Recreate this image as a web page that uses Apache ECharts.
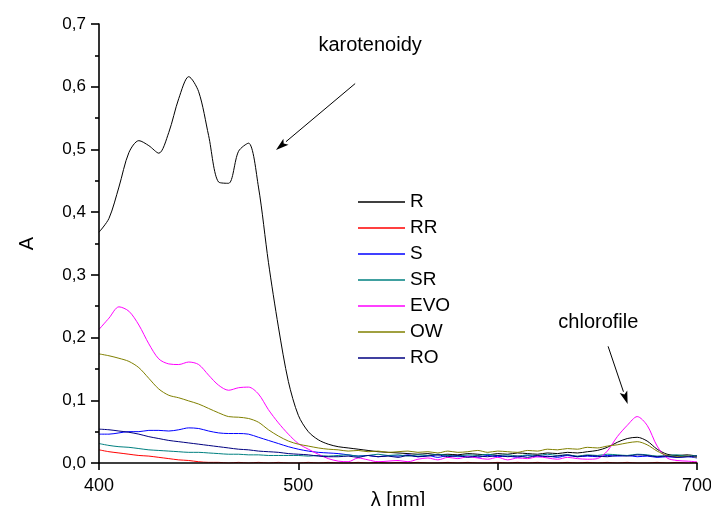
<!DOCTYPE html>
<html>
<head>
<meta charset="utf-8">
<title>Absorbance spectra</title>
<script src="https://cdn.jsdelivr.net/npm/echarts@6/dist/echarts.min.js"></script>
<style>
  html, body { margin: 0; padding: 0; background: #ffffff; }
  #chart { width: 711px; height: 506px; }
</style>
</head>
<body>
<div id="chart"></div>
<script>
// Wavelength grid (nm)
const wavelengths = [
  400,405,410,415,420,425,430,435,440,445,450,
  455,460,465,470,475,480,485,490,495,500,
  505,510,515,520,525,530,535,540,545,550,
  555,560,565,570,575,580,585,590,595,600,
  605,610,615,620,625,630,635,640,645,650,
  655,660,665,670,675,680,685,690,695,700
];

// Absorbance of each sample
const seriesNames = ['R', 'RR', 'S', 'SR', 'EVO', 'OW', 'RO'];

const absR = [
  0.368,0.390,0.440,0.495,0.514,0.506,0.494,0.527,0.581,0.616,0.592,
  0.522,0.448,0.446,0.497,0.510,0.440,0.320,0.217,0.130,0.076,
  0.050,0.037,0.030,0.026,0.024,0.022,0.020,0.018,0.017,0.016,
  0.015,0.014,0.015,0.013,0.014,0.013,0.015,0.014,0.013,0.015,
  0.014,0.016,0.015,0.014,0.016,0.015,0.017,0.016,0.018,0.020,
  0.025,0.033,0.039,0.041,0.035,0.022,0.014,0.012,0.013,0.011
];
const absRR = [
  0.021,0.018,0.016,0.014,0.012,0.011,0.009,0.007,0.005,0.004,0.002,
  0.001,0.001,0.000,0.001,0.000,0.001,0.000,0.001,0.000,0.000,
  0.001,0.000,0.001,0.000,0.000,0.001,0.000,0.001,0.000,0.001,
  0.000,0.001,0.000,0.000,0.001,0.000,0.001,0.000,0.000,0.001,
  0.000,0.001,0.000,0.001,0.000,0.000,0.001,0.000,0.001,0.000,
  0.001,0.000,0.001,0.000,0.000,0.001,0.000,0.001,0.000,0.001
];
const absS = [
  0.046,0.046,0.048,0.050,0.050,0.052,0.052,0.051,0.053,0.056,0.055,
  0.051,0.048,0.047,0.047,0.046,0.041,0.036,0.031,0.026,0.022,
  0.019,0.017,0.016,0.015,0.013,0.011,0.012,0.010,0.012,0.011,
  0.013,0.010,0.012,0.009,0.012,0.010,0.011,0.009,0.012,0.010,
  0.011,0.009,0.012,0.010,0.011,0.009,0.012,0.010,0.011,0.010,
  0.012,0.011,0.012,0.010,0.011,0.009,0.010,0.009,0.010,0.008
];
const absSR = [
  0.031,0.028,0.026,0.025,0.023,0.021,0.020,0.019,0.018,0.017,0.017,
  0.016,0.015,0.014,0.014,0.013,0.013,0.012,0.012,0.012,0.012,
  0.011,0.012,0.011,0.012,0.013,0.011,0.012,0.014,0.012,0.013,
  0.011,0.013,0.012,0.014,0.012,0.011,0.013,0.012,0.014,0.012,
  0.013,0.011,0.013,0.012,0.014,0.012,0.013,0.011,0.013,0.012,
  0.014,0.013,0.012,0.014,0.013,0.011,0.012,0.013,0.011,0.012
];
const absEVO = [
  0.213,0.231,0.249,0.242,0.220,0.190,0.166,0.158,0.157,0.161,0.157,
  0.140,0.124,0.116,0.120,0.121,0.110,0.085,0.064,0.046,0.031,
  0.022,0.014,0.007,0.003,0.002,0.008,0.005,0.002,0.003,0.004,
  0.002,0.006,0.008,0.005,0.009,0.007,0.010,0.008,0.006,0.009,
  0.005,0.008,0.007,0.010,0.008,0.006,0.009,0.007,0.006,0.007,
  0.019,0.042,0.060,0.074,0.060,0.027,0.008,0.004,0.003,0.002
];
const absOW = [
  0.174,0.171,0.167,0.162,0.152,0.135,0.118,0.108,0.104,0.099,0.094,
  0.087,0.080,0.074,0.073,0.071,0.065,0.053,0.043,0.035,0.030,
  0.027,0.024,0.022,0.021,0.019,0.020,0.018,0.019,0.017,0.018,
  0.019,0.017,0.018,0.016,0.019,0.017,0.018,0.020,0.017,0.019,
  0.018,0.017,0.020,0.019,0.022,0.021,0.023,0.022,0.025,0.024,
  0.027,0.029,0.032,0.034,0.029,0.019,0.012,0.010,0.011,0.009
];
const absRO = [
  0.054,0.053,0.051,0.049,0.046,0.042,0.039,0.036,0.034,0.032,0.030,
  0.028,0.026,0.024,0.022,0.021,0.019,0.018,0.017,0.015,0.014,
  0.013,0.011,0.010,0.010,0.011,0.009,0.012,0.010,0.011,0.009,
  0.012,0.010,0.011,0.013,0.010,0.012,0.009,0.011,0.010,0.012,
  0.010,0.011,0.009,0.012,0.010,0.011,0.013,0.010,0.012,0.011,
  0.010,0.012,0.011,0.013,0.012,0.010,0.011,0.009,0.010,0.011
];

const seriesValues = [absR, absRR, absS, absSR, absEVO, absOW, absRO];
const seriesColors = ['#000000', '#ff0000', '#0000ff', '#008080', '#ff00ff', '#808000', '#000080'];

// Axis ticks
const xTicks = [400, 500, 600, 700];
const yTickLabels = ['0,0', '0,1', '0,2', '0,3', '0,4', '0,5', '0,6', '0,7'];

// Annotations, in data coordinates
const annotations = [
  { text: 'karotenoidy', textAt: [536, 0.666], from: [528.5, 0.605], to: [488.8, 0.499] },
  { text: 'chlorofile', textAt: [650.5, 0.224], from: [655.4, 0.186], to: [665.2, 0.094] }
];

const FONT = '"Liberation Sans", Arial, sans-serif';
const chart = echarts.init(document.getElementById('chart'), null, { renderer: 'canvas' });

const series = seriesNames.map((name, i) => ({
  name: name,
  type: 'line',
  data: wavelengths.map((w, k) => [w, seriesValues[i][k]]),
  symbol: 'none',
  smooth: 0.3,
  lineStyle: { color: seriesColors[i], width: 1 },
  itemStyle: { color: seriesColors[i] },
  emphasis: { disabled: true },
  animation: false
}));

chart.setOption({
  animation: false,
  backgroundColor: '#ffffff',
  textStyle: { fontFamily: FONT },
  grid: { left: 99, right: 14, top: 24, bottom: 43, containLabel: false, outerBoundsMode: 'none' },
  legend: {
    orient: 'vertical',
    left: 353,
    top: 187,
    icon: 'rect',
    itemWidth: 47,
    itemHeight: 1.5,
    itemGap: 6,
    data: seriesNames,
    textStyle: { fontSize: 19, color: '#000', fontFamily: FONT, lineHeight: 20 },
    selectedMode: false
  },
  xAxis: {
    type: 'value',
    min: xTicks[0],
    max: xTicks[xTicks.length - 1],
    interval: xTicks[1] - xTicks[0],
    z: 5,
    name: 'λ [nm]',
    nameLocation: 'middle',
    nameGap: 27,
    nameMoveOverlap: false,
    nameTextStyle: { fontSize: 20, color: '#000', fontFamily: FONT, verticalAlign: 'top' },
    axisLine: { show: true, lineStyle: { color: '#000', width: 1.6 } },
    axisTick: { show: true, inside: false, length: 7, lineStyle: { color: '#000', width: 1.6 } },
    axisLabel: { fontSize: 18, color: '#000', margin: 14, fontFamily: FONT },
    splitLine: { show: false }
  },
  yAxis: {
    type: 'value',
    min: 0,
    max: 0.7,
    interval: 0.1,
    z: 5,
    name: 'A',
    nameLocation: 'middle',
    nameRotate: 90,
    nameGap: 62,
    nameMoveOverlap: false,
    nameTextStyle: { fontSize: 20, color: '#000', fontFamily: FONT },
    axisLine: { show: true, lineStyle: { color: '#000', width: 1.6 } },
    axisTick: { show: true, inside: false, length: 8, lineStyle: { color: '#000', width: 1.6 } },
    minorTick: { show: true, splitNumber: 2, length: 4, lineStyle: { color: '#000', width: 1.6 } },
    axisLabel: {
      fontSize: 17, color: '#000', margin: 13, fontFamily: FONT,
      formatter: (v) => yTickLabels[Math.round(v * 10)]
    },
    splitLine: { show: false }
  },
  series: series
});

// Text labels and arrows placed from data coordinates
function arrowElements(a) {
  const p0 = chart.convertToPixel({ gridIndex: 0 }, a.from);
  const p1 = chart.convertToPixel({ gridIndex: 0 }, a.to);
  const pt = chart.convertToPixel({ gridIndex: 0 }, a.textAt);
  const dx = p1[0] - p0[0], dy = p1[1] - p0[1];
  const len = Math.sqrt(dx * dx + dy * dy);
  const ux = dx / len, uy = dy / len;
  const headLen = 13, headHalf = 4;
  const bx = p1[0] - ux * headLen, by = p1[1] - uy * headLen;
  return [
    {
      type: 'line', silent: true, z: 10,
      shape: { x1: p0[0], y1: p0[1], x2: bx, y2: by },
      style: { stroke: '#000', lineWidth: 1 }
    },
    {
      type: 'polygon', silent: true, z: 10,
      shape: { points: [
        [p1[0], p1[1]],
        [bx - uy * headHalf, by + ux * headHalf],
        [bx + ux * 3, by + uy * 3],
        [bx + uy * headHalf, by - ux * headHalf]
      ] },
      style: { fill: '#000' }
    },
    {
      type: 'text', silent: true, z: 10,
      x: pt[0], y: pt[1],
      style: { text: a.text, fill: '#000', font: '20px ' + FONT, align: 'center', verticalAlign: 'middle' }
    }
  ];
}

chart.setOption({ graphic: annotations.flatMap(arrowElements) });
</script>
</body>
</html>
